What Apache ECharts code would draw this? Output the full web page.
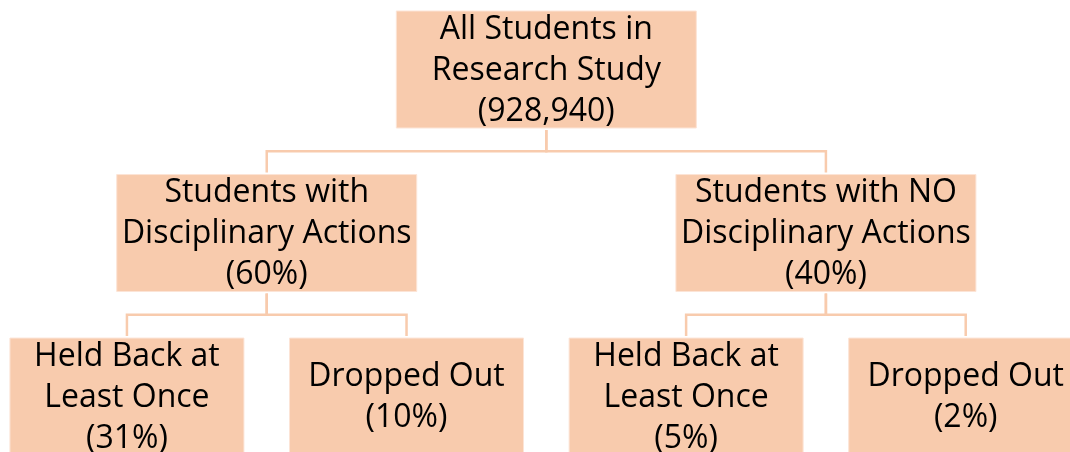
<!DOCTYPE html>
<html>
<head>
<meta charset="utf-8">
<script src="https://cdn.jsdelivr.net/npm/echarts@6/dist/echarts.min.js"></script>
<style>
  html, body { margin: 0; padding: 0; background: #ffffff; }
  #chart { width: 1070px; height: 452px; }
</style>
</head>
<body>
<div id="chart"></div>
<script>
// ---- Data ----
const nodeNames = [
  'All Students in\nResearch Study',
  'Students with\nDisciplinary Actions',
  'Students with NO\nDisciplinary Actions',
  'Held Back at\nLeast Once',
  'Dropped Out',
  'Held Back at\nLeast Once',
  'Dropped Out'
];
const nodeParents = [-1, 0, 0, 1, 1, 2, 2];
const rootCount = 928940;
const nodePercents = [null, 60, 40, 31, 10, 5, 2];

// ---- Simple tree layout (leaf order -> columns, depth -> level) ----
const children = nodeNames.map(() => []);
nodeParents.forEach((p, i) => { if (p >= 0) children[p].push(i); });
const depth = [], col = [];
let leafCounter = 0;
function layout(i, d) {
  depth[i] = d;
  if (children[i].length === 0) { col[i] = leafCounter++; return; }
  children[i].forEach(c => layout(c, d + 1));
  const cs = children[i].map(c => col[c]);
  col[i] = (cs[0] + cs[cs.length - 1]) / 2;
}
layout(0, 0);

function nodeText(i) {
  const v = i === 0 ? rootCount.toLocaleString('en-US') : nodePercents[i] + '%';
  return nodeNames[i] + '\n(' + v + ')';
}

const nodeData = nodeNames.map((n, i) => [col[i], depth[i], i]);
const edgeData = [];
nodeParents.forEach((p, i) => { if (p >= 0) edgeData.push([col[p], depth[p], col[i], depth[i]]); });

// ---- Styles ----
const FILL = '#F8CBAD';
const LINE = '#F8CBAD';
const BOX_W = [300, 300, 234];
const BOX_H = 117;
const FONT = '"Open Sans", Lato, sans-serif';

const chart = echarts.init(document.getElementById('chart'), null, { renderer: 'canvas' });
chart.setOption({
  animation: false,
  backgroundColor: '#ffffff',
  grid: { left: 0, right: 0, top: 0, bottom: 0 },
  xAxis: { type: 'value', min: -0.454, max: 3.373, show: false },
  yAxis: { type: 'value', min: -0.425, max: 2.339, inverse: true, show: false },
  series: [
    {
      type: 'custom',
      coordinateSystem: 'cartesian2d',
      data: edgeData,
      z: 1,
      renderItem: function (params, api) {
        const p = api.coord([api.value(0), api.value(1)]);
        const c = api.coord([api.value(2), api.value(3)]);
        const barY = api.coord([0, (api.value(1) + api.value(3)) / 2])[1];
        const pBottom = p[1] + BOX_H / 2 + 2;
        const cTop = c[1] - BOX_H / 2 - 2;
        return {
          type: 'polyline',
          shape: { points: [[p[0], pBottom], [p[0], barY], [c[0], barY], [c[0], cTop]] },
          style: { stroke: LINE, lineWidth: 2.5, fill: null }
        };
      }
    },
    {
      type: 'custom',
      coordinateSystem: 'cartesian2d',
      data: nodeData,
      z: 2,
      renderItem: function (params, api) {
        const idx = api.value(2);
        const lvl = api.value(1);
        const pt = api.coord([api.value(0), lvl]);
        const w = BOX_W[lvl];
        return {
          type: 'group',
          children: [
            {
              type: 'rect',
              shape: { x: pt[0] - w / 2, y: pt[1] - BOX_H / 2, width: w, height: BOX_H },
              style: { fill: FILL, stroke: '#FCE4D6', lineWidth: 1 }
            },
            {
              type: 'text',
              style: {
                text: nodeText(idx),
                x: pt[0], y: pt[1] + 1,
                align: 'center', verticalAlign: 'middle',
                fontFamily: FONT, fontSize: 32, lineHeight: 41,
                fill: '#000000'
              }
            }
          ]
        };
      }
    }
  ]
});
</script>
</body>
</html>
